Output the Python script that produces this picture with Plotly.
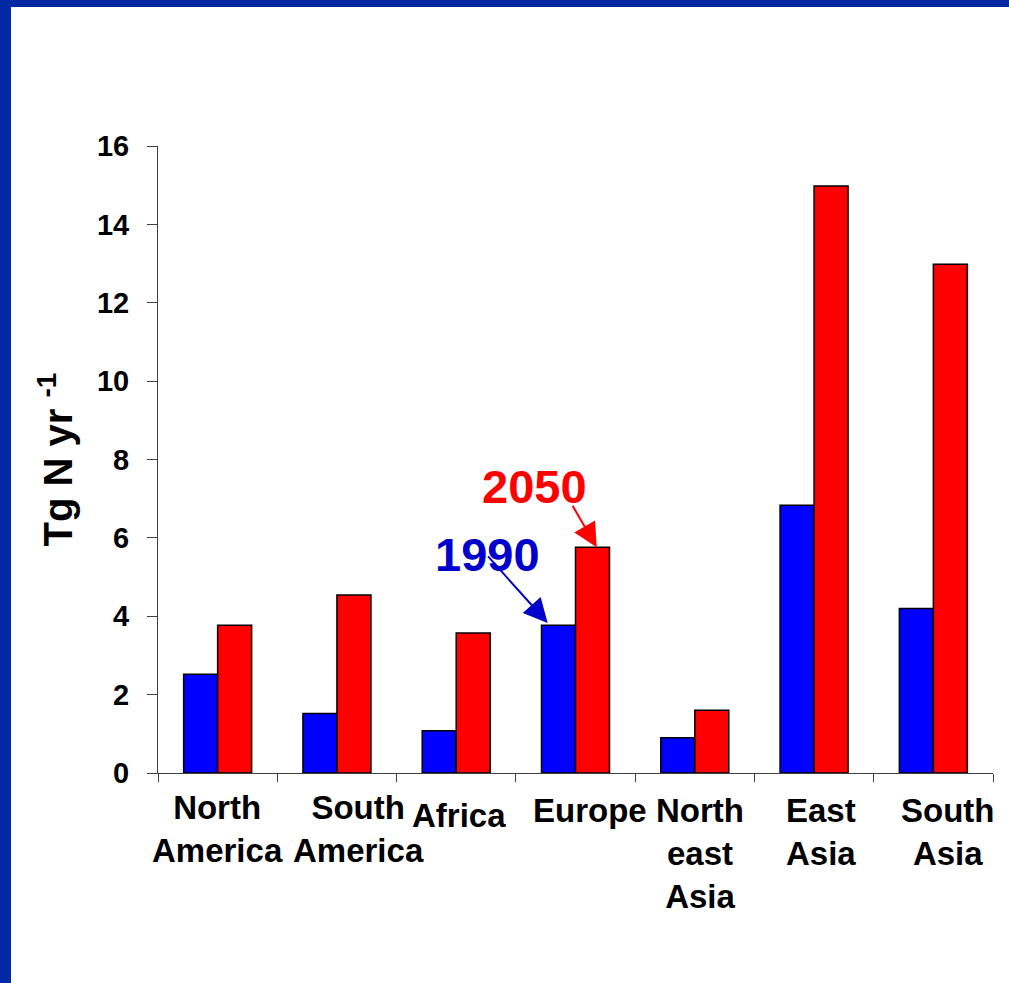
import plotly.graph_objects as go

regions = ["North America", "South America", "Africa", "Europe",
           "North east Asia", "East Asia", "South Asia"]
tick_labels = ["North<br>America", "South<br>America", "Africa", "Europe",
               "North<br>east<br>Asia", "East<br>Asia", "South<br>Asia"]
vals_1990 = [2.52, 1.52, 1.08, 3.77, 0.90, 6.83, 4.20]
vals_2050 = [3.77, 4.54, 3.57, 5.76, 1.60, 14.98, 12.98]
y_ticks = [0, 2, 4, 6, 8, 10, 12, 14, 16]

# per-label nudges (pixels) imitating the staggered category labels of the original
label_dx = [0, 22, 3, 14, 5, 7, 14]
label_dy = [0, 0, -8, -3, -3, -3, -3]

FONT = "Arial, Liberation Sans, Helvetica, sans-serif"
BLUE_TXT = "#0000CC"
RED_TXT = "#FF0000"
FRAME = "#0029A3"

fig = go.Figure()
fig.add_trace(go.Bar(x=tick_labels, y=vals_1990, name="1990",
                     marker=dict(color="#0000FF", line=dict(color="black", width=1.5))))
fig.add_trace(go.Bar(x=tick_labels, y=vals_2050, name="2050",
                     marker=dict(color="#FF0000", line=dict(color="black", width=1.5))))

W, H = 1009, 983
ml, mr, mt, mb = 158, 16, 146, 210
pw, ph = W - ml - mr, H - mt - mb

fig.update_layout(
    template="none",
    width=W, height=H, autosize=False,
    margin=dict(l=ml, r=mr, t=mt, b=mb, pad=0),
    paper_bgcolor="white", plot_bgcolor="white",
    showlegend=False,
    barmode="group", bargap=0.43, bargroupgap=0,
    font=dict(family=FONT, color="black"),
)
fig.update_xaxes(
    type="category", tickson="boundaries", automargin=False,
    range=[-0.5, len(tick_labels) - 0.5], autorange=False,
    showticklabels=False,
    showline=True, linecolor="#404040", linewidth=1,
    ticks="outside", ticklen=8, tickcolor="#404040",
    showgrid=False, zeroline=False,
)
fig.update_yaxes(
    range=[0, 16], autorange=False, tickvals=y_ticks, automargin=False,
    showline=True, linecolor="#404040", linewidth=1,
    ticks="outside", ticklen=10, tickcolor="#404040",
    tickfont=dict(size=29, weight="bold", family=FONT),
    ticklabelstandoff=12,
    showgrid=False, zeroline=False,
    title=dict(text="Tg N yr <sup>-1</sup>", standoff=11,
               font=dict(size=40, weight="bold", family=FONT)),
)

# category labels
for lab, dx, dy in zip(tick_labels, label_dx, label_dy):
    fig.add_annotation(x=lab, xref="x", y=0, yref="paper", yanchor="top",
                       xanchor="center", align="center",
                       text=lab, showarrow=False, xshift=dx, yshift=-14 + dy,
                       font=dict(size=33, weight="bold", family=FONT, color="black"))

eu = regions.index("Europe")
# text labels
fig.add_annotation(x=eu - 0.735, y=vals_1990[eu] + 1.8, text="1990", showarrow=False,
                   font=dict(size=47, color=BLUE_TXT, weight="bold", family=FONT))
fig.add_annotation(x=eu - 0.34, y=vals_2050[eu] + 1.54, text="2050", showarrow=False,
                   font=dict(size=47, color=RED_TXT, weight="bold", family=FONT))
# arrows
fig.add_annotation(x=eu - 0.233, y=vals_1990[eu] + 0.06, text="", showarrow=True,
                   axref="pixel", ayref="pixel", ax=-61, ay=-68,
                   arrowhead=2, arrowsize=2.4, arrowwidth=2, arrowcolor=BLUE_TXT, standoff=0)
fig.add_annotation(x=eu + 0.178, y=vals_2050[eu], text="", showarrow=True,
                   axref="pixel", ayref="pixel", ax=-25, ay=-43,
                   arrowhead=2, arrowsize=2.4, arrowwidth=2, arrowcolor=RED_TXT, standoff=0)

# slide frame (blue left and top borders)
fig.add_shape(type="rect", xref="paper", yref="paper",
              x0=-ml / pw, x1=(11 - ml) / pw, y0=-mb / ph, y1=(H - mb) / ph,
              fillcolor=FRAME, line=dict(width=0), layer="above")
fig.add_shape(type="rect", xref="paper", yref="paper",
              x0=-ml / pw, x1=(W - ml) / pw, y0=(H - mb - 7) / ph, y1=(H - mb) / ph,
              fillcolor=FRAME, line=dict(width=0), layer="above")

fig.write_html("out.html")
